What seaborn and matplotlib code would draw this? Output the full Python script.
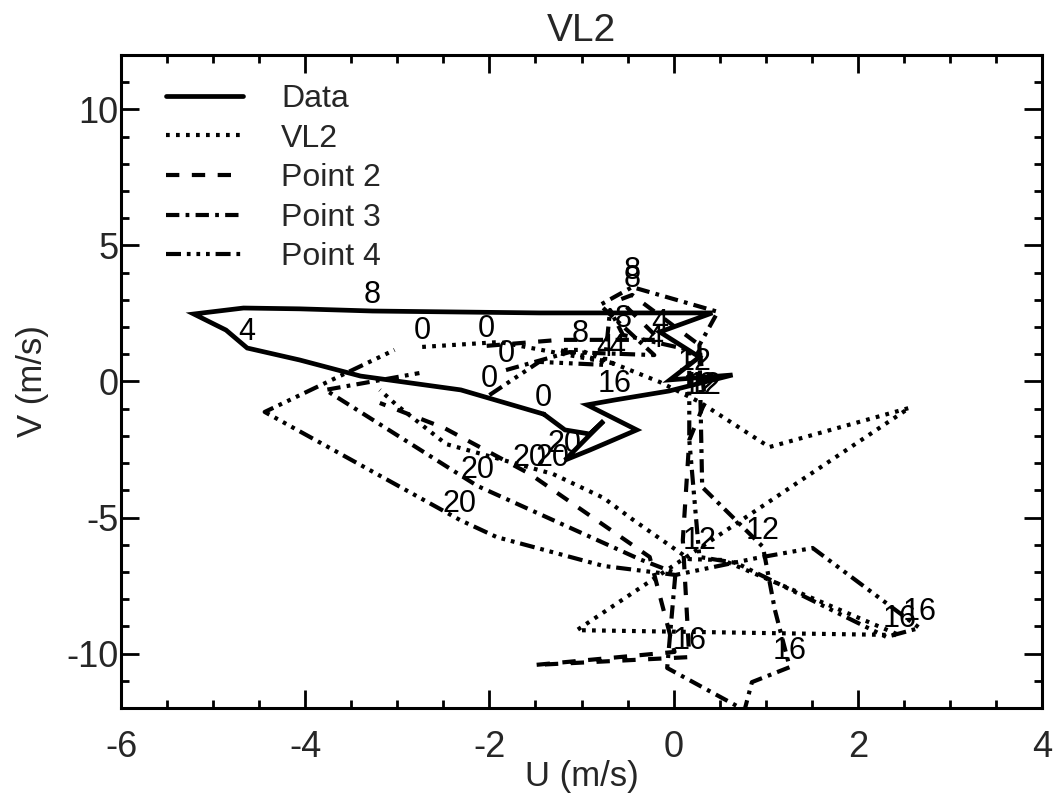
import matplotlib
matplotlib.use("Agg")
import matplotlib.pyplot as plt
from matplotlib.ticker import MultipleLocator
import seaborn as sns
import pandas as pd

# Hodograph of wind components (m/s) over one diurnal cycle, with hour labels
data_hr = [0, 1, 2, 3, 4, 5, 5.5, 6, 7, 8, 9, 10, 11, 11.5, 11.8, 12, 13, 14, 16, 16.5, 17,
           18, 19, 20, 21, 22, 23, 24]
data_u = [-1.41, -2.31, -3.40, -4.06, -4.63, -4.86, -5.21, -4.67, -4.06, -3.27, -1.46, 0.42,
          -0.15, 0.28, -0.04, 0.23, 0.64, -0.05, -0.64, -0.94, -0.40, -0.73, -0.91, -1.18,
          -0.76, -0.91, -1.18, -1.41]
data_v = [-1.20, -0.31, 0.20, 0.79, 1.23, 1.89, 2.48, 2.70, 2.67, 2.59, 2.52, 2.52, 1.82, 0.90,
          0.06, 0.13, 0.24, -0.35, -0.68, -0.86, -1.78, -2.26, -2.52, -2.89, -1.45, -1.93,
          -1.78, -1.20]

vl2_hr = [0, 2, 4, 6, 8, 10, 12, 13, 14, 15, 16, 18, 19, 19.3, 19.6, 20, 22, 23, 24]
vl2_u = [-2.73, -1.89, -0.62, -1.24, -1.02, -0.15, 0.28, 1.04, 2.56, -1.05, 2.45, 0.53, 0.17,
         -0.45, -0.76, -1.31, -2.47, -3.01, -3.19]
vl2_v = [1.27, 1.45, 0.64, 1.16, 1.16, -0.02, -0.75, -2.41, -0.97, -9.14, -9.32, -6.56, -6.53,
         -5.06, -4.28, -3.40, -2.30, -0.86, -0.31]

p2_hr = [0, 2, 4, 6, 8, 10, 12, 14, 15, 16, 17, 18, 19, 20, 22, 24]
p2_u = [-2.03, -1.24, -0.15, -0.59, -0.45, 0.28, 0.34, 0.17, 0.10, 0.17, -1.51, 0.01, -0.26,
        -1.56, -2.49, -3.19]
p2_v = [1.31, 1.53, 1.53, 3.00, 3.18, 1.34, -0.75, -2.15, -5.83, -10.13, -10.42, -9.94, -6.45,
        -3.40, -1.71, -0.79]

p3_hr = [0, 2, 4, 6, 8, 10, 11, 11.5, 12, 14, 16, 17, 18, 18.5, 19, 19.5, 20, 22, 24]
p3_u = [-1.82, -1.13, -0.21, -0.80, -0.45, 0.48, 0.28, 0.31, 0.97, 1.10, 1.26, 0.85, 0.77,
        -0.07, 0.02, -0.37, -2.13, -3.78, -2.76]
p3_v = [0.42, 1.08, 0.97, 2.81, 3.47, 2.56, 1.34, -3.88, -6.08, -8.40, -10.50, -11.05, -12.08,
        -10.53, -7.04, -6.53, -3.84, -0.31, 0.31]

p4_hr = [0, 2, 4, 6, 8, 10, 11, 12, 13, 15, 16, 17, 18, 18.5, 19, 19.5, 20, 22, 24]
p4_u = [-2.00, -1.46, -0.75, -0.69, -0.55, 0.17, 0.17, 0.28, 0.68, 2.31, 2.67, 1.51, 0.90,
        0.02, -0.76, -1.92, -2.32, -4.44, -3.03]
p4_v = [-0.50, 0.72, 0.61, 2.63, 1.71, 1.16, -2.15, -6.45, -6.67, -9.39, -9.06, -6.12, -6.49,
        -7.11, -6.78, -5.72, -5.09, -1.12, 1.16]

series_names = ["Data", "VL2", "Point 2", "Point 3", "Point 4"]
series_hr = [data_hr, vl2_hr, p2_hr, p3_hr, p4_hr]
series_u = [data_u, vl2_u, p2_u, p3_u, p4_u]
series_v = [data_v, vl2_v, p2_v, p3_v, p4_v]

title_text = "VL2"
x_label = "U (m/s)"
y_label = "V (m/s)"

line_styles = [
    "-",
    (0, (0.9, 1.5)),
    (0, (3.2, 3.0)),
    (0, (3.2, 1.5, 0.9, 1.5)),
    (0, (3.6, 1.4, 0.9, 1.4, 0.9, 1.4, 0.9, 1.4)),
]
line_widths = [3.4, 3.0, 3.0, 3.0, 3.0]

sns.set_theme(style="ticks")
plt.rcParams["font.family"] = ["Liberation Sans", "DejaVu Sans"]
plt.rcParams["axes.unicode_minus"] = False

fig = plt.figure(figsize=(10.55, 7.98), dpi=100)
ax = fig.add_axes([0.1147, 0.1128, 0.8730, 0.8183])

for name, hr, u, v, ls, lw in zip(series_names, series_hr, series_u, series_v,
                                  line_styles, line_widths):
    df = pd.DataFrame({"u": u, "v": v, "hr": hr})
    sns.lineplot(data=df, x="u", y="v", sort=False, estimator=None, ax=ax,
                 color="black", linestyle=ls, linewidth=lw, label=name,
                 dash_capstyle="butt", solid_joinstyle="miter")
    # hour marks every 4 h along each trace
    for _, row in df.iterrows():
        h = row["hr"]
        if float(h).is_integer() and int(h) % 4 == 0 and int(h) < 24:
            ax.annotate(str(int(h)), (row["u"], row["v"]), xytext=(0, 1),
                        textcoords="offset points", ha="center", va="bottom",
                        fontsize=22, color="black", clip_on=True)

ax.set_xlim(-6, 4)
ax.set_ylim(-12, 12)
ax.xaxis.set_major_locator(MultipleLocator(2))
ax.xaxis.set_minor_locator(MultipleLocator(0.5))
ax.yaxis.set_major_locator(MultipleLocator(5))
ax.yaxis.set_minor_locator(MultipleLocator(1))
ax.tick_params(which="both", direction="in", top=True, right=True, width=2, color="black",
               labelsize=26)
ax.tick_params(axis="x", which="major", pad=16)
ax.tick_params(axis="y", which="major", pad=2)
ax.tick_params(which="major", length=13)
ax.tick_params(which="minor", length=6)
for sp in ax.spines.values():
    sp.set_linewidth(2.2)
    sp.set_color("black")

ax.set_title(title_text, fontsize=28, pad=10)
ax.set_xlabel(x_label, fontsize=25, labelpad=-4)
ax.set_ylabel(y_label, fontsize=25, labelpad=12)

leg = ax.legend(loc="upper left", frameon=False, fontsize=23, handlelength=2.4,
                handletextpad=1.2, labelspacing=0.3, borderaxespad=0.0,
                bbox_to_anchor=(0.035, 0.975))
for lh in leg.get_lines():
    lh.set_color("black")

fig.savefig("out.png", dpi=100)
